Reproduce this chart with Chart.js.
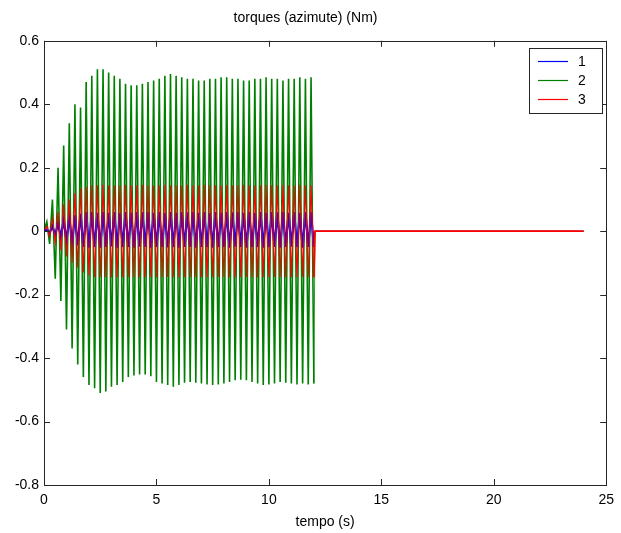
<!DOCTYPE html>
<html>
<head>
<meta charset="utf-8">
<script src="https://cdn.jsdelivr.net/npm/chart.js@4/dist/chart.umd.min.js"></script>
<style>
  html, body { margin: 0; padding: 0; background: #fff; }
</style>
</head>
<body>
<canvas id="myChart" width="621" height="533"></canvas>
<script>
// tempo (s) - amostras dos picos / vales
var tempo = [0,
  0.125,0.25,0.375,0.5,0.625,0.75,0.875,1,1.125,1.25,1.375,1.5,1.625,1.75,1.875,2,2.125,2.25,2.375,2.5,
  2.625,2.75,2.875,3,3.125,3.25,3.375,3.5,3.625,3.75,3.875,4,4.125,4.25,4.375,4.5,4.625,4.75,4.875,5,
  5.125,5.25,5.375,5.5,5.625,5.75,5.875,6,6.125,6.25,6.375,6.5,6.625,6.75,6.875,7,7.125,7.25,7.375,7.5,
  7.625,7.75,7.875,8,8.125,8.25,8.375,8.5,8.625,8.75,8.875,9,9.125,9.25,9.375,9.5,9.625,9.75,9.875,10,
  10.125,10.25,10.375,10.5,10.625,10.75,10.875,11,11.125,11.25,11.375,11.5,11.625,11.75,11.875,12,
  12.05,24];

var torque1 = [0,
  0.005,-0.005,0.015,-0.012,0.025,-0.02,0.035,-0.03,0.045,-0.038,0.05,-0.045,0.055,-0.05,0.06,-0.052,0.06,-0.05,0.058,-0.052,
  0.06,-0.05,0.058,-0.048,0.06,-0.052,0.057,-0.05,0.06,-0.05,0.058,-0.052,0.06,-0.049,0.059,-0.05,0.06,-0.052,0.058,-0.05,
  0.06,-0.05,0.057,-0.051,0.06,-0.05,0.058,-0.052,0.06,-0.05,0.059,-0.049,0.06,-0.052,0.058,-0.05,0.06,-0.05,0.057,-0.052,
  0.06,-0.05,0.058,-0.05,0.06,-0.052,0.059,-0.049,0.06,-0.05,0.058,-0.052,0.06,-0.05,0.057,-0.05,0.06,-0.052,0.058,-0.05,
  0.06,-0.05,0.059,-0.052,0.06,-0.05,0.058,-0.049,0.06,-0.05,0.058,-0.052,0.06,-0.05,0.059,-0.05,
  0,0];

var torque2 = [0,
  0.03,-0.04,0.10,-0.15,0.20,-0.22,0.27,-0.31,0.34,-0.37,0.40,-0.42,0.39,-0.46,0.47,-0.485,0.49,-0.495,0.51,-0.51,
  0.51,-0.505,0.50,-0.49,0.49,-0.485,0.48,-0.475,0.465,-0.46,0.46,-0.455,0.46,-0.452,0.465,-0.452,0.47,-0.457,0.475,-0.475,
  0.48,-0.48,0.49,-0.485,0.495,-0.49,0.49,-0.485,0.485,-0.478,0.48,-0.475,0.48,-0.478,0.475,-0.48,0.475,-0.483,0.48,-0.485,
  0.48,-0.483,0.485,-0.48,0.485,-0.475,0.48,-0.47,0.48,-0.468,0.475,-0.47,0.475,-0.475,0.48,-0.48,0.48,-0.485,0.485,-0.483,
  0.48,-0.48,0.48,-0.475,0.475,-0.478,0.48,-0.48,0.48,-0.483,0.485,-0.48,0.48,-0.483,0.485,-0.48,
  0,0];

var torque3 = [0,
  0.015,-0.015,0.04,-0.035,0.06,-0.06,0.085,-0.08,0.10,-0.10,0.12,-0.115,0.135,-0.13,0.14,-0.14,0.145,-0.145,0.145,-0.145,
  0.146,-0.144,0.145,-0.146,0.145,-0.145,0.144,-0.145,0.146,-0.145,0.145,-0.144,0.145,-0.146,0.146,-0.145,0.145,-0.145,0.144,-0.146,
  0.145,-0.145,0.146,-0.144,0.145,-0.145,0.145,-0.146,0.144,-0.145,0.146,-0.145,0.145,-0.144,0.145,-0.145,0.146,-0.146,0.145,-0.145,
  0.145,-0.144,0.144,-0.145,0.146,-0.145,0.145,-0.146,0.145,-0.145,0.146,-0.144,0.145,-0.145,0.144,-0.146,0.145,-0.145,0.146,-0.145,
  0.145,-0.144,0.145,-0.145,0.146,-0.146,0.145,-0.145,0.144,-0.145,0.146,-0.144,0.145,-0.145,0.145,-0.145,
  0,0];

var seriesNames = ["1", "2", "3"];
var seriesColors = ["#0000ff", "#008000", "#ff0000"];
var xTicks = [0, 5, 10, 15, 20, 25];
var yTicks = [-0.8, -0.6, -0.4, -0.2, 0, 0.2, 0.4, 0.6];
var yTickLabels = ["-0.8", "-0.6", "-0.4", "-0.2", "0", "0.2", "0.4", "0.6"];

function toPoints(ys) {
  return ys.map(function(y, i) { return { x: tempo[i], y: y }; });
}

// width per segment: once the signal is flat (t >= 12) red sits on top of the others
function tailWidth(w, tail) {
  return function(sc) { return sc.p0.parsed.x >= 12 ? tail : w; };
}

Chart.defaults.font.family = '"Liberation Sans", Arial, sans-serif';
Chart.defaults.font.size = 14;
Chart.defaults.color = "#000";

//!box, inward ticks, legend
var matlabAxes = {
  id: "matlabAxes",
  afterDraw: function(chart) {
    var c = chart.ctx, a = chart.chartArea;
    var xs = chart.scales.x, ys = chart.scales.y, tl = 6;
    c.save();
    c.strokeStyle = "#262626";
    c.lineWidth = 1;
    c.strokeRect(Math.round(a.left) + 0.5, Math.round(a.top) + 0.5,
      Math.round(a.right - a.left), Math.round(a.bottom - a.top));
    c.beginPath();
    xTicks.forEach(function(v) {
      var px = Math.round(xs.getPixelForValue(v)) + 0.5;
      c.moveTo(px, a.bottom); c.lineTo(px, a.bottom - tl);
      c.moveTo(px, a.top); c.lineTo(px, a.top + tl);
    });
    yTicks.forEach(function(v) {
      var py = Math.round(ys.getPixelForValue(v)) + 0.5;
      c.moveTo(a.left, py); c.lineTo(a.left + tl, py);
      c.moveTo(a.right, py); c.lineTo(a.right - tl, py);
    });
    c.stroke();

    // legend
    var bx = 529.5, by = 48.5, bw = 73, bh = 65;
    c.fillStyle = "#fff";
    c.fillRect(bx, by, bw, bh);
    c.strokeStyle = "#262626";
    c.strokeRect(bx, by, bw, bh);
    c.font = '14px "Liberation Sans", Arial, sans-serif';
    c.textBaseline = "middle";
    c.textAlign = "left";
    seriesNames.forEach(function(name, i) {
      var ly = 61 + i * 19;
      c.strokeStyle = seriesColors[i];
      c.lineWidth = 1.2;
      c.beginPath();
      c.moveTo(538, ly + 0.5); c.lineTo(568, ly + 0.5);
      c.stroke();
      c.fillStyle = "#000";
      c.fillText(name, 578, ly + 1);
    });
    c.restore();
  }
};

var ctx = document.getElementById("myChart").getContext("2d");
var myChart = new Chart(ctx, {
  type: "line",
  data: {
    datasets: [
      { label: seriesNames[0], data: toPoints(torque1), borderColor: seriesColors[0], borderWidth: 2.2,
        segment: { borderWidth: tailWidth(2.2, 0.8) }, order: 1 },
      { label: seriesNames[1], data: toPoints(torque2), borderColor: seriesColors[1], borderWidth: 1.6,
        segment: { borderWidth: tailWidth(1.6, 0.8) }, order: 2 },
      { label: seriesNames[2], data: toPoints(torque3), borderColor: seriesColors[2], borderWidth: 1.1,
        segment: { borderWidth: tailWidth(1.1, 1.8) }, order: 0 }
    ]
  },
  options: {
    responsive: false,
    animation: false,
    devicePixelRatio: 1,
    layout: { padding: { left: 0, right: 10, top: 0, bottom: 0 } },
    elements: {
      line: { tension: 0, fill: false },
      point: { radius: 0, hoverRadius: 0 }
    },
    plugins: {
      legend: { display: false },
      tooltip: { enabled: false },
      title: {
        display: true,
        text: "torques (azimute) (Nm)",
        color: "#000",
        font: { size: 14, weight: "normal" },
        padding: { top: 10, bottom: 14 }
      }
    },
    scales: {
      x: {
        type: "linear",
        min: 0,
        max: 25,
        grid: { display: false, drawTicks: false },
        border: { display: false },
        afterBuildTicks: function(s) { s.ticks = xTicks.map(function(v) { return { value: v }; }); },
        afterFit: function(s) { s.height = 48; },
        ticks: { padding: 7, autoSkip: false, maxRotation: 0, color: "#000",
          callback: function(v) { return String(v); } },
        title: { display: true, text: "tempo (s)", color: "#000", padding: { top: 0, bottom: 2 } }
      },
      y: {
        type: "linear",
        min: -0.8,
        max: 0.6,
        grid: { display: false, drawTicks: false },
        border: { display: false },
        afterBuildTicks: function(s) { s.ticks = yTicks.map(function(v) { return { value: v }; }); },
        afterFit: function(s) { s.width = 44; },
        ticks: { padding: 5, autoSkip: false, color: "#000",
          callback: function(v, i) { return yTickLabels[i]; } }
      }
    }
  },
  plugins: [matlabAxes]
});
</script>
</body>
</html>
